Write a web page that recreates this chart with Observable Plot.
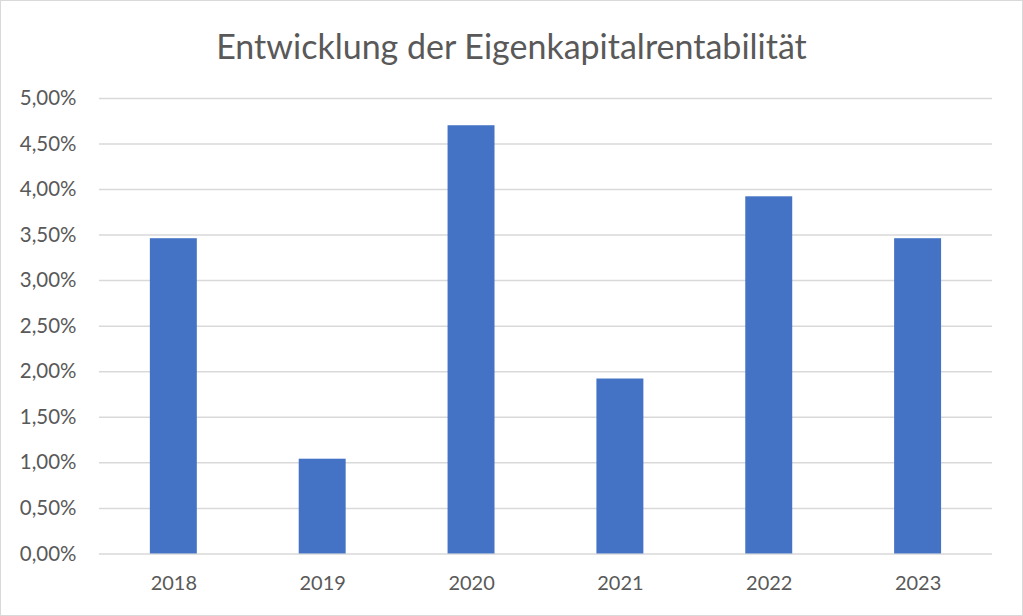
<!DOCTYPE html>
<html>
<head>
<meta charset="utf-8">
<script src="https://cdn.jsdelivr.net/npm/d3@7"></script>
<script src="https://cdn.jsdelivr.net/npm/@observablehq/plot@0.6"></script>
<style>
  html, body { margin: 0; padding: 0; background: #fff; }
  #chart { position: relative; width: 1023px; height: 616px; box-sizing: border-box; border: 1px solid #d9d9d9; overflow: hidden; font-family: Lato, "Open Sans", sans-serif; }
  #title { position: absolute; left: 0; right: 0; top: 25px; text-align: center; font-size: 34px; color: #595959; line-height: 40px; }
  #plot { position: absolute; left: -1px; top: -1px; }
</style>
</head>
<body>
<div id="chart">
  <div id="title">Entwicklung der Eigenkapitalrentabilität</div>
  <div id="plot"></div>
</div>
<script>
const years = ["2018", "2019", "2020", "2021", "2022", "2023"];
const values = [0.0346, 0.0104, 0.0470, 0.0192, 0.0392, 0.0346];
const yTicks = [0, 0.005, 0.01, 0.015, 0.02, 0.025, 0.03, 0.035, 0.04, 0.045, 0.05];

const data = years.map((y, i) => ({year: y, value: values[i]}));
const de = d3.formatLocale({decimal: ",", thousands: ".", grouping: [3], currency: ["", " €"]});
const fmt = de.format(".2%");

const chart = Plot.plot({
  width: 1023,
  height: 616,
  marginTop: 98,
  marginBottom: 62,
  marginLeft: 99,
  marginRight: 30,
  style: {fontFamily: "Lato, 'Open Sans', sans-serif", fontSize: "20px", color: "#595959", background: "transparent"},
  x: {domain: years, paddingInner: 0.685, paddingOuter: 0.3425, label: null},
  y: {domain: [0, 0.05], label: null},
  marks: [
    Plot.ruleY(yTicks, {stroke: "#d9d9d9", strokeWidth: 1.5}),
    Plot.barY(data, {x: "year", y: "value", fill: "#4472C4"}),
    Plot.axisY(yTicks, {tickFormat: fmt, tickSize: 0, tickPadding: 23, label: null, fontSize: 20.5, fill: "#595959"}),
    Plot.axisX({tickSize: 0, tickPadding: 22, label: null, fontSize: 20, fill: "#595959"})
  ]
});
document.getElementById("plot").appendChild(chart);
</script>
</body>
</html>
